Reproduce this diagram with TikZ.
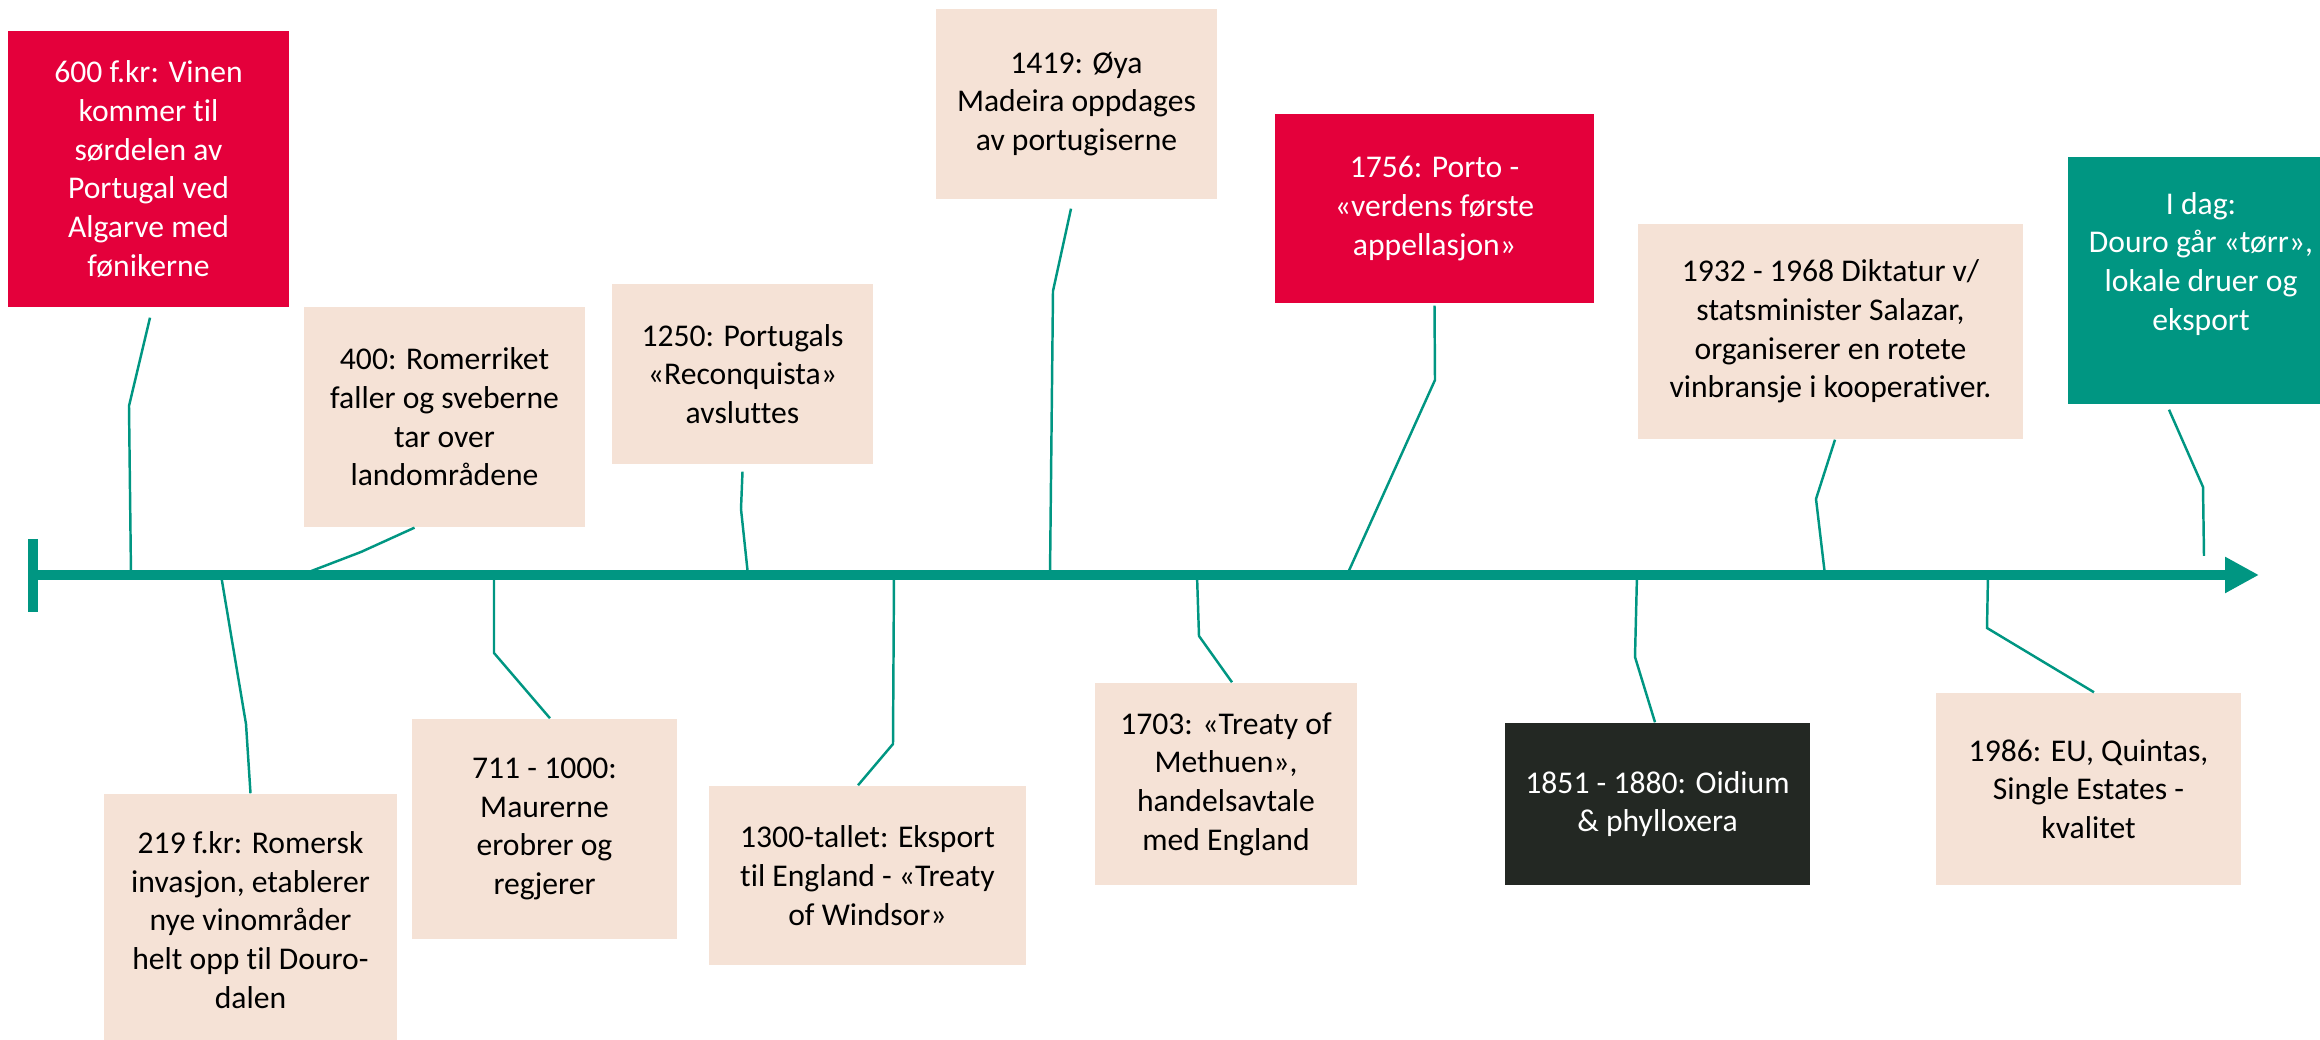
\documentclass[tikz,border=0pt]{standalone}
\usepackage{fontspec}
\setmainfont{Carlito}[Ligatures={NoCommon}]
\usetikzlibrary{arrows.meta}
\definecolor{vgronn}{RGB}{0,150,130}
\definecolor{vrod}{RGB}{228,0,59}
\definecolor{vbeige}{RGB}{245,226,214}
\definecolor{vmork}{RGB}{35,40,35}
\begin{document}
\begin{tikzpicture}[
    hendelse/.style={fill=vbeige, text=black, align=center, inner sep=0pt,
      font=\fontsize{9}{11}\selectfont},
    rodboks/.style={hendelse, fill=vrod, text=white},
    gronnboks/.style={hendelse, fill=vgronn, text=white},
    morkboks/.style={hendelse, fill=vmork, text=white},
    str/.style 2 args={minimum width=#1cm, minimum height=#2cm},
    linje/.style={draw=vgronn, line width=2.8pt},
    kobling/.style={draw=vgronn, line width=0.7pt}]
  \useasboundingbox (0,0) rectangle (23.2,10.4);
  \clip (0,0) rectangle (23.2,10.4);
  % Tidslinje
  \coordinate (start) at (0.33,4.65);
  \coordinate (slutt) at (22.59,4.65);
  \draw[linje] (0.33,5.01) -- (0.33,4.28);
  \draw[linje, -{Triangle[length=0.34cm, width=0.34cm]}] (start) -- (slutt);
  % Hendelser over linja
  \node[rodboks, str={2.81}{2.76}] (n600) at (1.485,8.71)
    {600 f.kr: Vinen\\kommer til\\sørdelen av\\Portugal ved\\Algarve med\\fønikerne};
  \node[hendelse, str={2.81}{2.20}] (n400) at (4.445,6.23)
    {400: Romerriket\\faller og sveberne\\tar over\\landområdene};
  \node[hendelse, str={2.61}{1.80}] (n1250) at (7.425,6.66)
    {1250: Portugals\\«Reconquista»\\avsluttes};
  \node[hendelse, str={2.81}{1.90}] (n1419) at (10.765,9.36)
    {1419: Øya\\Madeira oppdages\\av portugiserne};
  \node[rodboks, str={3.19}{1.89}] (n1756) at (14.345,8.315)
    {1756: Porto -\\«verdens første\\appellasjon»};
  \node[hendelse, str={3.85}{2.15}] (n1932) at (18.305,7.085)
    {1932 - 1968 Diktatur v/\\statsminister Salazar,\\organiserer en rotete\\vinbransje i kooperativer.};
  \node[gronnboks, str={2.66}{2.47}] (nidag) at (22.01,7.595)
    {I dag:\\Douro går «tørr»,\\lokale druer og\\eksport\\\phantom{x}};
  % Hendelser under linja
  \node[hendelse, str={2.93}{2.52}] (n219) at (2.505,1.20)
    {219 f.kr: Romersk\\invasjon, etablerer\\nye vinområder\\helt opp til Douro-\\dalen};
  \node[hendelse, str={2.65}{2.20}] (n711) at (5.445,2.11)
    {711 - 1000:\\Maurerne\\erobrer og\\regjerer};
  \node[hendelse, str={3.17}{1.79}] (n1300) at (8.675,1.645)
    {1300-tallet: Eksport\\til England - «Treaty\\of Windsor»};
  \node[hendelse, str={2.62}{2.02}] (n1703) at (12.26,2.56)
    {1703: «Treaty of\\Methuen»,\\handelsavtale\\med England};
  \node[morkboks, str={3.05}{1.62}] (n1851) at (16.575,2.36)
    {1851 - 1880: Oidium\\\& phylloxera};
  \node[hendelse, str={3.05}{1.92}] (n1986) at (20.885,2.51)
    {1986: EU, Quintas,\\Single Estates -\\kvalitet};
  % Punkter på linja
  \coordinate (t600) at (1.31,4.65);
  \coordinate (t219) at (2.21,4.65);
  \coordinate (t400) at (3.01,4.65);
  \coordinate (t711) at (4.94,4.65);
  \coordinate (t1250) at (7.48,4.65);
  \coordinate (t1300) at (8.94,4.65);
  \coordinate (t1419) at (10.50,4.65);
  \coordinate (t1703) at (11.97,4.65);
  \coordinate (t1756) at (13.47,4.65);
  \coordinate (t1851) at (16.37,4.65);
  \coordinate (t1932) at (18.25,4.65);
  \coordinate (t1986) at (19.88,4.65);
  \coordinate (tidag) at (22.04,4.84);
  % Koblinger
  \draw[kobling] (n600.south) ++(0.015,-0.10) -- (1.29,6.34) -- (t600);
  \draw[kobling] (n400.south) ++(-0.30,0) -- (3.61,4.88) -- (t400);
  \draw[kobling] (n1250.south) ++(0,-0.07) -- (7.41,5.31) -- (t1250);
  \draw[kobling] (n1419.south) ++(-0.055,-0.09) -- (10.53,7.49) -- (t1419);
  \draw[kobling] (n1756.south) ++(0,-0.02) -- (14.35,6.60) -- (t1756);
  \draw[kobling] (n1932.south) ++(0.045,0) -- (18.16,5.41) -- (t1932);
  \draw[kobling] (nidag.south) ++(-0.32,-0.05) -- (22.03,5.53) -- (tidag);
  \draw[kobling] (n219.north) -- (2.46,3.16) -- (t219);
  \draw[kobling] (n711.north) ++(0.055,0) -- (4.94,3.87) -- (t711);
  \draw[kobling] (n1300.north) ++(-0.095,0) -- (8.93,2.96) -- (t1300);
  \draw[kobling] (n1703.north) ++(0.06,0) -- (11.99,4.04) -- (t1703);
  \draw[kobling] (n1851.north) ++(-0.025,0) -- (16.35,3.83) -- (t1851);
  \draw[kobling] (n1986.north) ++(0.055,0) -- (19.87,4.12) -- (t1986);
\end{tikzpicture}
\end{document}
